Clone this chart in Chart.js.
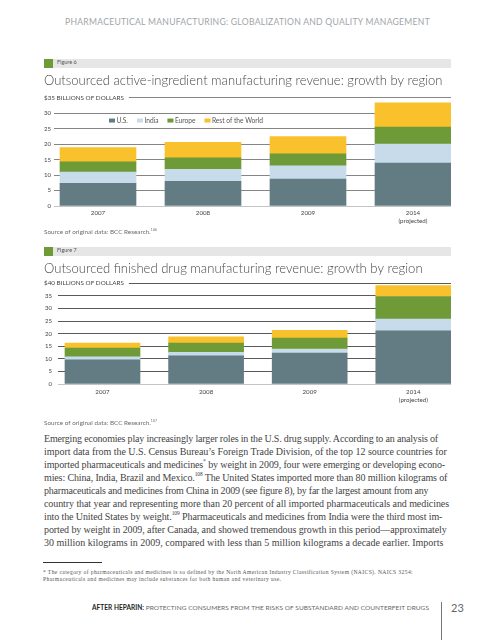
<!DOCTYPE html>
<html><head><meta charset="utf-8">
<script src="https://cdn.jsdelivr.net/npm/chart.js@4.4.1/dist/chart.umd.min.js"></script>
<style>
html,body{margin:0;padding:0;background:#fff;}
#page{position:relative;width:495px;height:640px;overflow:hidden;}
.abs{position:absolute;white-space:nowrap;}
.fit{display:inline-block;white-space:nowrap;}
.band{position:absolute;left:44px;width:407px;height:9px;background:#e6e6e6;}
.band .sq{position:absolute;left:0;top:0;width:9px;height:9px;background:#6e9a37;}
.band span{position:absolute;left:13px;top:0;line-height:9px;font:5.5px Lato,sans-serif;color:#555;}
canvas{position:absolute;left:0;}
.hdr{font:8.6px Lato,sans-serif;color:#a0a5a9;line-height:12px;}
.src{font:6.3px Lato,sans-serif;color:#6a6a6a;line-height:8px;}
.body{font:10px "Liberation Serif",serif;color:#444;line-height:13px;}
.fn{font:5.6px "Liberation Serif",serif;color:#555;line-height:7.3px;}
.ftr{font:6.5px Lato,sans-serif;color:#666;line-height:9px;}
.ftr b{color:#222;}
sup{font-size:0.55em;line-height:0;position:relative;top:-0.1em;vertical-align:super;}
</style></head>
<body><div id="page">
<div class="abs hdr" style="left:65px;top:16px"><span class="fit" data-w="365">PHARMACEUTICAL MANUFACTURING: GLOBALIZATION AND QUALITY MANAGEMENT</span></div>

<div class="band" style="top:59px"><div class="sq"></div><span>Figure 6</span></div>
<canvas id="c1" width="495" height="160" style="top:70px"></canvas>
<div class="abs src" style="left:44px;top:228px"><span class="fit" data-w="113">Source of original data: BCC Research.<sup>106</sup></span></div>

<div class="band" style="top:247px"><div class="sq"></div><span>Figure 7</span></div>
<canvas id="c2" width="495" height="150" style="top:258px"></canvas>
<div class="abs src" style="left:44px;top:419px"><span class="fit" data-w="113">Source of original data: BCC Research.<sup>107</sup></span></div>

<div class="abs body" style="left:44px;top:432px">
<div><span class="fit" data-w="394">Emerging economies play increasingly larger roles in the U.S. drug supply. According to an analysis of</span></div>
<div><span class="fit" data-w="402.7">import data from the U.S. Census Bureau’s Foreign Trade Division, of the top 12 source countries for</span></div>
<div><span class="fit" data-w="401">imported pharmaceuticals and medicines<sup>*</sup> by weight in 2009, four were emerging or developing econo-</span></div>
<div><span class="fit" data-w="403.3">mies: China, India, Brazil and Mexico.<sup>108</sup> The United States imported more than 80 million kilograms of</span></div>
<div><span class="fit" data-w="384.3">pharmaceuticals and medicines from China in 2009 (see figure 8), by far the largest amount from any</span></div>
<div><span class="fit" data-w="405">country that year and representing more than 20 percent of all imported pharmaceuticals and medicines</span></div>
<div><span class="fit" data-w="398.3">into the United States by weight.<sup>109</sup> Pharmaceuticals and medicines from India were the third most im-</span></div>
<div><span class="fit" data-w="402.7">ported by weight in 2009, after Canada, and showed tremendous growth in this period—approximately</span></div>
<div><span class="fit" data-w="399.3">30 million kilograms in 2009, compared with less than 5 million kilograms a decade earlier. Imports</span></div>
</div>

<div class="abs" style="left:43px;top:562px;width:59px;height:1px;background:#333"></div>
<div class="abs fn" style="left:43px;top:569px">
<div><span class="fit" data-w="370">* The category of pharmaceuticals and medicines is so defined by the North American Industry Classification System (NAICS). NAICS 3254:</span></div>
<div><span class="fit" data-w="238.4">Pharmaceuticals and medicines may include substances for both human and veterinary use.</span></div>
</div>

<div class="abs ftr" style="left:92px;top:603px"><span class="fit" data-w="337"><b>AFTER HEPARIN:</b> PROTECTING CONSUMERS FROM THE RISKS OF SUBSTANDARD AND COUNTERFEIT DRUGS</span></div>
<div class="abs" style="left:441px;top:602px;width:1px;height:38px;background:#777"></div>
<div class="abs" style="left:451px;top:600px;font:11px Lato,sans-serif;color:#666;line-height:15px">23</div>
</div>

<script>
// ---- data ----
const years = ['2007', '2008', '2009', '2014'];
const yearTickLabels = ['2007', '2008', '2009', ['2014', '(projected)']];
const regionNames = ['U.S.', 'India', 'Europe', 'Rest of the World'];
const regionColors = ['#637b82', '#c7dbeb', '#6e9a37', '#f9c12c'];

// Figure 6: outsourced active-ingredient manufacturing revenue ($ billions)
const apiUS = [7.3, 8.0, 8.7, 13.9];
const apiIndia = [3.7, 3.9, 4.3, 6.1];
const apiEurope = [3.3, 3.7, 3.9, 5.5];
const apiRest = [4.6, 5.0, 5.6, 7.9];
const apiTicks = [0, 5, 10, 15, 20, 25, 30, 35];

// Figure 7: outsourced finished drug manufacturing revenue ($ billions)
const fdUS = [9.6, 11.2, 12.3, 21.1];
const fdIndia = [1.2, 1.35, 1.6, 4.7];
const fdEurope = [3.5, 3.75, 4.4, 9.0];
const fdRest = [2.0, 2.5, 3.0, 4.3];
const fdTicks = [0, 5, 10, 15, 20, 25, 30, 35, 40];

const FAMILY = 'Lato, sans-serif';

function fitSize(text, target, weight) {
  const c = document.createElement('canvas').getContext('2d');
  c.font = weight + ' 20px ' + FAMILY;
  return 20 * target / c.measureText(text).width;
}

const unitLabelPlugin = {
  id: 'unitLabel',
  afterDraw(chart, args, opts) {
    if (!opts || !opts.text) return;
    const {ctx, scales: {y}} = chart;
    const yy = y.getPixelForValue(y.max);
    const size = fitSize(opts.text, opts.width, 'normal');
    ctx.save();
    ctx.font = size + 'px ' + FAMILY;
    const w = ctx.measureText(opts.text).width;
    ctx.fillStyle = '#fff';
    ctx.fillRect(opts.x - 2, yy - 4, w + opts.gap + 2, 8);
    ctx.fillStyle = '#444';
    ctx.textBaseline = 'middle';
    ctx.fillText(opts.text, opts.x, yy);
    ctx.restore();
  }
};

const inLegendPlugin = {
  id: 'inLegend',
  afterDraw(chart, args, opts) {
    if (!opts || !opts.show) return;
    const {ctx, chartArea} = chart;
    const yy = chartArea.top + opts.dy;
    let x = opts.x;
    ctx.save();
    ctx.font = opts.size + 'px ' + FAMILY;
    ctx.textBaseline = 'middle';
    chart.data.datasets.forEach(ds => {
      ctx.fillStyle = ds.backgroundColor;
      ctx.fillRect(x, yy - 2, 6, 4);
      x += 7.5;
      ctx.fillStyle = '#555';
      ctx.fillText(ds.label, x, yy);
      x += ctx.measureText(ds.label).width + opts.gap;
    });
    ctx.restore();
  }
};

function buildChart(id, o) {
  const datasets = o.series.map((vals, i) => ({
    label: regionNames[i],
    data: vals.map((v, j) => ({x: j, y: v})),
    backgroundColor: regionColors[i],
    borderWidth: 0,
    barThickness: o.barW
  }));
  const top = o.ticks[o.ticks.length - 1];
  return new Chart(document.getElementById(id), {
    type: 'bar',
    data: {datasets},
    options: {
      responsive: false,
      animation: false,
      layout: {padding: {left: 44, right: 44, top: 0, bottom: 0}},
      plugins: {
        legend: {display: false},
        tooltip: {enabled: false},
        title: {
          display: true, text: o.title, align: 'start', color: '#484848',
          font: {family: FAMILY, size: fitSize(o.title, o.titleW, '300'), weight: 300, lineHeight: 1.2},
          padding: {top: o.tpTop, bottom: o.tpBot}
        },
        unitLabel: {text: o.unit, x: 44, gap: 5, width: 80},
        inLegend: {show: o.legend, x: 109, dy: 22.7, size: 6.6, gap: 9}
      },
      scales: {
        x: {
          type: 'linear', stacked: true, min: o.xmin, max: o.xmax, offset: false,
          grid: {display: false, drawTicks: false}, border: {display: false},
          afterBuildTicks: s => { s.ticks = years.map((_, i) => ({value: i})); },
          afterFit: s => { s.height = 24; },
          ticks: {
            autoSkip: false, maxRotation: 0, padding: o.xPad, color: '#444',
            font: {family: FAMILY, size: 6.2, lineHeight: 1.3},
            callback: v => yearTickLabels[v]
          }
        },
        y: {
          stacked: true, min: 0, max: top,
          afterBuildTicks: s => { s.ticks = o.ticks.map(v => ({value: v})); },
          afterFit: s => { s.width = o.yw; },
          border: {display: false},
          grid: {drawTicks: false, lineWidth: 1, color: c => c.tick.value === 0 ? '#c4c4c4' : o.gridColor},
          ticks: {
            padding: o.yPad, color: '#444', font: {family: FAMILY, size: 6},
            callback: v => v === top ? '' : v
          }
        }
      }
    },
    plugins: [unitLabelPlugin, inLegendPlugin]
  });
}

function fitTexts() {
  document.querySelectorAll('.fit').forEach(el => {
    el.style.letterSpacing = '0px';
    const w = el.getBoundingClientRect().width;
    const n = el.textContent.length;
    el.style.letterSpacing = ((+el.dataset.w - w) / n) + 'px';
  });
}
fitTexts();

buildChart('c1', {
  series: [apiUS, apiIndia, apiEurope, apiRest],
  ticks: apiTicks,
  title: 'Outsourced active-ingredient manufacturing revenue: growth by region',
  titleW: 399, tpTop: 3, tpBot: 9.2,
  unit: '$35 BILLIONS OF DOLLARS',
  legend: true,
  xmin: -0.419, xmax: 3.362, barW: 76,
  yw: 10, yPad: 3, xPad: 3,
  gridColor: '#858585'
});

buildChart('c2', {
  series: [fdUS, fdIndia, fdEurope, fdRest],
  ticks: fdTicks,
  title: 'Outsourced finished drug manufacturing revenue: growth by region',
  titleW: 379, tpTop: 3, tpBot: 6.7,
  unit: '$40 BILLIONS OF DOLLARS',
  legend: false,
  xmin: -0.4295, xmax: 3.364, barW: 75,
  yw: 14, yPad: 6, xPad: 3.5,
  gridColor: '#5a5a5a'
});
</script>
</body></html>
